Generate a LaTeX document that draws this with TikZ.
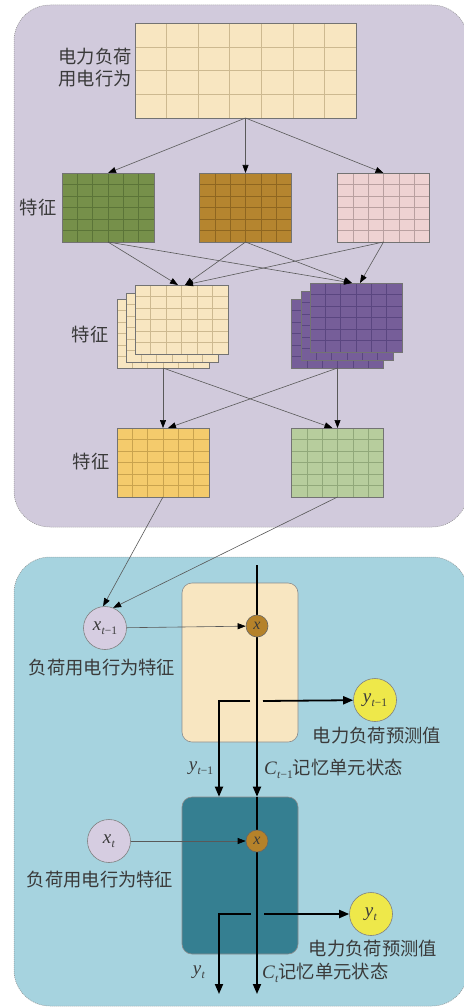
\documentclass[tikz,border=0pt]{standalone}
\usepackage{fontspec}
\newfontfamily\cjk{Noto Sans CJK SC}
\newfontfamily\tms{Liberation Serif}
\usetikzlibrary{arrows.meta,calc}
\pgfdeclarelayer{panel}\pgfdeclarelayer{top}
\pgfsetlayers{panel,main,top}
\definecolor{panelA}{HTML}{D1CADC}
\definecolor{panelB}{HTML}{A6D3DF}
\definecolor{creamF}{HTML}{F8E6C1}\definecolor{creamG}{HTML}{CDB990}
\definecolor{greenF}{HTML}{76904A}\definecolor{greenG}{HTML}{5B7438}
\definecolor{brownF}{HTML}{B5852F}\definecolor{brownG}{HTML}{8E6620}
\definecolor{pinkF}{HTML}{EED2D2}\definecolor{pinkG}{HTML}{B9A0A0}
\definecolor{purpF}{HTML}{765E99}\definecolor{purpG}{HTML}{5A4680}
\definecolor{yelF}{HTML}{F4CB6C}\definecolor{yelG}{HTML}{C9A34E}
\definecolor{lgF}{HTML}{B7CD9D}\definecolor{lgG}{HTML}{91A87A}
\definecolor{tealF}{HTML}{357F91}
\definecolor{lavF}{HTML}{D6CDE1}
\definecolor{ycF}{HTML}{EEE84A}
\definecolor{mulF}{HTML}{B5822A}
\definecolor{txt}{HTML}{3A3A3A}
\newcommand\vr[2]{{\tms\itshape #1}\kern0.3pt\raisebox{-4.5pt}{\tms\fontsize{11.5}{11.5}\selectfont #2}}
\newcommand\gridbox[9]{%
  \node[gbox, fill=#8, minimum width=#4pt, minimum height=#5pt] (#1) at (#2,#3) {};
  \pgfmathtruncatemacro\gnc{#6-1}\pgfmathtruncatemacro\gnr{#7-1}%
  \foreach \i in {1,...,\gnc}{\draw[gline,#9] ($(#1.south west)!{\i/#6}!(#1.south east)$) -- ($(#1.north west)!{\i/#6}!(#1.north east)$);}
  \foreach \j in {1,...,\gnr}{\draw[gline,#9] ($(#1.south west)!{\j/#7}!(#1.north west)$) -- ($(#1.south east)!{\j/#7}!(#1.north east)$);}
  \draw[gborder] (#1.south west) rectangle (#1.north east);
}
\begin{document}
\begin{tikzpicture}[x=1pt,y=-1pt,
  gbox/.style={draw=black!55, line width=0.7pt, inner sep=0pt, outer sep=0pt},
  gline/.style={line width=0.45pt},
  gborder/.style={draw=black!55, line width=0.7pt},
  panelborder/.style={draw=black!45, line width=0.5pt, dash pattern=on 1pt off 1pt},
  thin/.style={draw=black!65, line width=0.6pt, -{Triangle[length=8pt,width=6pt,color=black]}},
  thick/.style={draw=black, line width=1.8pt},
  thickarr/.style={thick, -{Triangle[length=10pt,width=8pt]}},
  cjkl/.style={font=\cjk\fontsize{18.3}{22}\selectfont, text=txt, inner sep=0pt},
  bigc/.style={circle, draw=black!50, line width=0.6pt, minimum size=43pt, inner sep=0pt, font=\fontsize{19}{19}\selectfont, text=txt},
  mulc/.style={circle, draw=black!60, line width=0.6pt, fill=mulF, minimum size=22pt, inner sep=0pt, font=\tms\itshape\fontsize{16}{16}\selectfont, text=txt},
  cell/.style={rounded corners=10pt, line width=0.6pt, minimum width=116pt, inner sep=0pt}
]
\useasboundingbox (0,0) rectangle (463,1008);
\begin{pgfonlayer}{panel}
\draw[panelborder, fill=panelA, rounded corners=36pt] (14,5) rectangle (468,527);
\draw[panelborder, fill=panelB, rounded corners=36pt] (14,557) rectangle (468,1006);
\end{pgfonlayer}

% top grids
\gridbox{raw}{245.5}{70.5}{221}{95}{7}{4}{creamF}{creamG}
\gridbox{gr}{108}{207.5}{92}{69}{6}{6}{greenF}{greenG}
\gridbox{br}{245.5}{207.5}{92}{69}{6}{6}{brownF}{brownG}
\gridbox{pk}{383.5}{207.5}{92}{69}{6}{6}{pinkF}{pinkG}
\gridbox{crC}{163}{333.5}{92}{69}{6}{6}{creamF}{creamG}
\gridbox{crB}{172}{327.5}{92}{69}{6}{6}{creamF}{creamG}
\gridbox{crA}{181.5}{319.5}{93}{69}{6}{6}{creamF}{creamG}
\gridbox{puC}{337.5}{333.5}{92}{69}{6}{6}{purpF}{purpG}
\gridbox{puB}{347}{325.5}{92}{69}{6}{6}{purpF}{purpG}
\gridbox{puA}{356}{317.5}{92}{69}{6}{6}{purpF}{purpG}
\gridbox{ye}{163}{462.5}{92}{69}{6}{6}{yelF}{yelG}
\gridbox{lg}{337.5}{462.5}{92}{69}{6}{6}{lgF}{lgG}

\node[cjkl, align=right, anchor=east] (lab0) at (132,68) {电力负荷\\用电行为};
\node[cjkl] (lab1) at (38,208) {特征};
\node[cjkl] (lab2) at (90,335) {特征};
\node[cjkl] (lab3) at (91,462) {特征};

\draw[thin] (raw.south) -- (gr.north);
\draw[thin] (raw.south) -- (br.north);
\draw[thin] (raw.south) -- (pk.north);
\draw[thin] (gr.south) -- ([xshift=-3.5pt]crA.north);
\draw[thin] (br.south) -- ([xshift=3.5pt]crA.north);
\draw[thin] (pk.south) -- ([xshift=3.5pt]crA.north);
\draw[thin] (gr.south) -- ([xshift=-4pt]puA.north);
\draw[thin] (br.south) -- ([xshift=-4pt]puA.north);
\draw[thin] (pk.south) -- ([xshift=4pt]puA.north);
\draw[thin] (crC.south) -- (ye.north);
\draw[thin] (crC.south) -- ([xshift=-5pt]lg.north);
\draw[thin] (puC.south) -- (lg.north);
\draw[thin] (puC.south) -- ([xshift=5pt]ye.north);

% LSTM part
\node[cell, fill=creamF, draw=black!45, minimum height=159pt] (cellA) at (240,662.5) {};
\node[cell, fill=tealF, draw=black!45, minimum height=157pt] (cellB) at (240,875.5) {};

\begin{pgfonlayer}{top}
\node[bigc, fill=lavF] (xp) at (105,628) {\vr{x}{\textit{t}−1}};
\node[mulc] (m1) at (257,626) {x};
\node[bigc, fill=ycF] (yp) at (375,700) {\vr{y}{\textit{t}−1}};
\node[bigc, fill=lavF] (xt) at (109,841) {\vr{x}{\textit{t}}};
\node[mulc] (m2) at (257,841) {x};
\node[bigc, fill=ycF] (yt) at (371,914) {\vr{y}{\textit{t}}};
\end{pgfonlayer}

\coordinate (ctop) at (257,565);
\coordinate (cbot) at (257,994);
\coordinate (a1L) at (250,701);
\coordinate (a1R) at (263,701);
\coordinate (b1) at (219,701);
\coordinate (a2L) at (251,914);
\coordinate (a2R) at (264,914);
\coordinate (b2) at (219,914);
\coordinate (b2e) at (219,994);

\draw[thin] (ye.south) -- (xp.95);
\draw[thin] (lg.south) -- (xp.68);
\draw[thin] (xp) -- (m1);
\draw[thin] (xt) -- (m2);

\draw[thickarr] (ctop) -- (ctop |- cellB.north);
\draw[thickarr] (ctop |- cellB.north) -- (cbot);
\draw[thickarr] (a1L) -- (b1) -- (b1 |- cellB.north);
\draw[thickarr] (a1R) -- (yp);
\draw[thickarr] (a2L) -- (b2) -- (b2e);
\draw[thickarr] (a2R) -- (yt);

\node[cjkl] (lab4) at (102,668) {负荷用电行为特征};
\node[cjkl] (lab5) at (100,880) {负荷用电行为特征};
\node[cjkl] (lab6) at (377,736) {电力负荷预测值};
\node[cjkl] (lab7) at (373,949) {电力负荷预测值};
\node[font=\fontsize{19}{19}\selectfont, text=txt, inner sep=0pt] (lab8) at (201,768) {\vr{y}{\textit{t}−1}};
\node[cjkl, anchor=west] (lab9) at (264,769) {\fontsize{19}{19}\selectfont\vr{C}{\textit{t}−1}\cjk\fontsize{18.3}{22}\selectfont 记忆单元状态};
\node[font=\fontsize{19}{19}\selectfont, text=txt, inner sep=0pt] (lab10) at (199,972) {\vr{y}{\textit{t}}};
\node[cjkl, anchor=west] (lab11) at (262,973) {\fontsize{19}{19}\selectfont\vr{C}{\textit{t}}\cjk\fontsize{18.3}{22}\selectfont 记忆单元状态};
\end{tikzpicture}
\end{document}
